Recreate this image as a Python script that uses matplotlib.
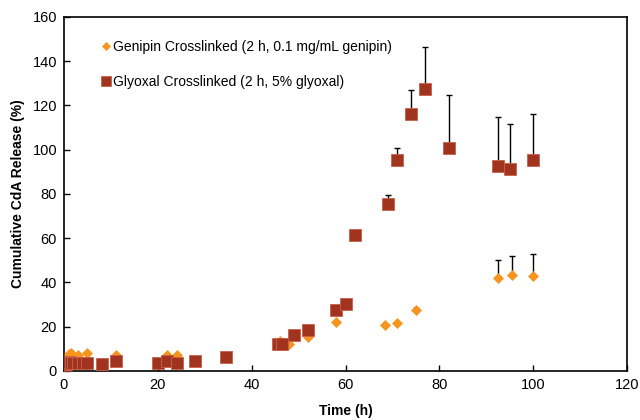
import numpy as np
import matplotlib
matplotlib.use('Agg')
import matplotlib.pyplot as plt

plt.rcParams['font.family'] = ['Liberation Sans', 'DejaVu Sans']

# Genipin crosslinked (diamonds)
gen_time = [0, 0.5, 1, 1.5, 2, 3, 5, 11, 22, 24, 46, 48, 52, 58, 68.5, 71, 75, 92.5, 95.5, 100]
gen_release = [0, 5, 7.5, 8, 6, 7.3, 8.2, 7.3, 7.3, 7.3, 13.5, 12, 15.5, 22, 20.5, 21.5, 27.5, 42, 43.5, 43]
gen_err = [0, 0, 0, 0, 0, 0, 0, 0, 0, 0, 0, 0, 0, 0, 0, 0, 1, 8, 8.5, 10]

# Glyoxal crosslinked (squares)
gly_time = [0, 0.5, 1, 1.5, 2, 3, 4, 5, 8, 11, 20, 22, 24, 28, 34.5, 45.5, 46.5, 49, 52,
            58, 60, 62, 69, 71, 74, 77, 82, 92.5, 95, 100]
gly_release = [1.5, 3, 4, 3.5, 3.5, 3.5, 3.5, 3.5, 3, 4.6, 3.7, 4.6, 3.7, 4.6, 6.3, 12, 12, 16, 18.5,
               27.5, 30, 61.5, 75.5, 95.5, 116, 127.5, 100.5, 92.5, 91, 95.5]
gly_err = [0, 0, 0, 0, 0, 0, 0, 0, 0, 0, 0, 0, 0, 0, 0, 0, 0, 0, 0,
           2, 2, 1.5, 4, 5, 11, 19, 24, 22, 20.5, 20.5]

orange = '#F7941D'
darkred = '#A0341F'

fig = plt.figure(figsize=(6.4, 4.2), dpi=100)
ax = fig.add_axes([0.1, 0.117, 0.88, 0.843])

# one-sided (upper) error bars
ax.errorbar(gly_time, gly_release, yerr=[np.zeros(len(gly_err)), gly_err], fmt='none',
            ecolor='black', elinewidth=1, capsize=2, capthick=1, zorder=2)
ax.errorbar(gen_time, gen_release, yerr=[np.zeros(len(gen_err)), gen_err], fmt='none',
            ecolor='black', elinewidth=1, capsize=2, capthick=1, zorder=2)

ax.plot(gen_time, gen_release, 'D', color=orange, markersize=5.5, markeredgewidth=0.5,
        markeredgecolor=orange, label='Genipin Crosslinked (2 h, 0.1 mg/mL genipin)', zorder=3)
ax.plot(gly_time, gly_release, 's', color=darkred, markersize=9, markeredgewidth=0.6,
        markeredgecolor='#C8604A', label='Glyoxal Crosslinked (2 h, 5% glyoxal)', zorder=4)

ax.set_xlim(0, 120)
ax.set_ylim(0, 160)
ax.set_xticks(range(0, 121, 20))
ax.set_yticks(range(0, 161, 20))
ax.tick_params(direction='in', length=4, labelsize=10.5, width=1, pad=5)
for s in ax.spines.values():
    s.set_linewidth(1.2)

ax.set_xlabel('Time (h)', fontsize=10, fontweight='bold', labelpad=9)
ax.set_ylabel('Cumulative CdA Release (%)', fontsize=10, fontweight='bold', labelpad=5)

leg = ax.legend(loc='upper left', frameon=False, fontsize=10, markerscale=0.8,
                handlelength=0.6, handletextpad=0.2, labelspacing=1.5,
                bbox_to_anchor=(0.045, 0.97))

fig.savefig('out.png', dpi=100)
